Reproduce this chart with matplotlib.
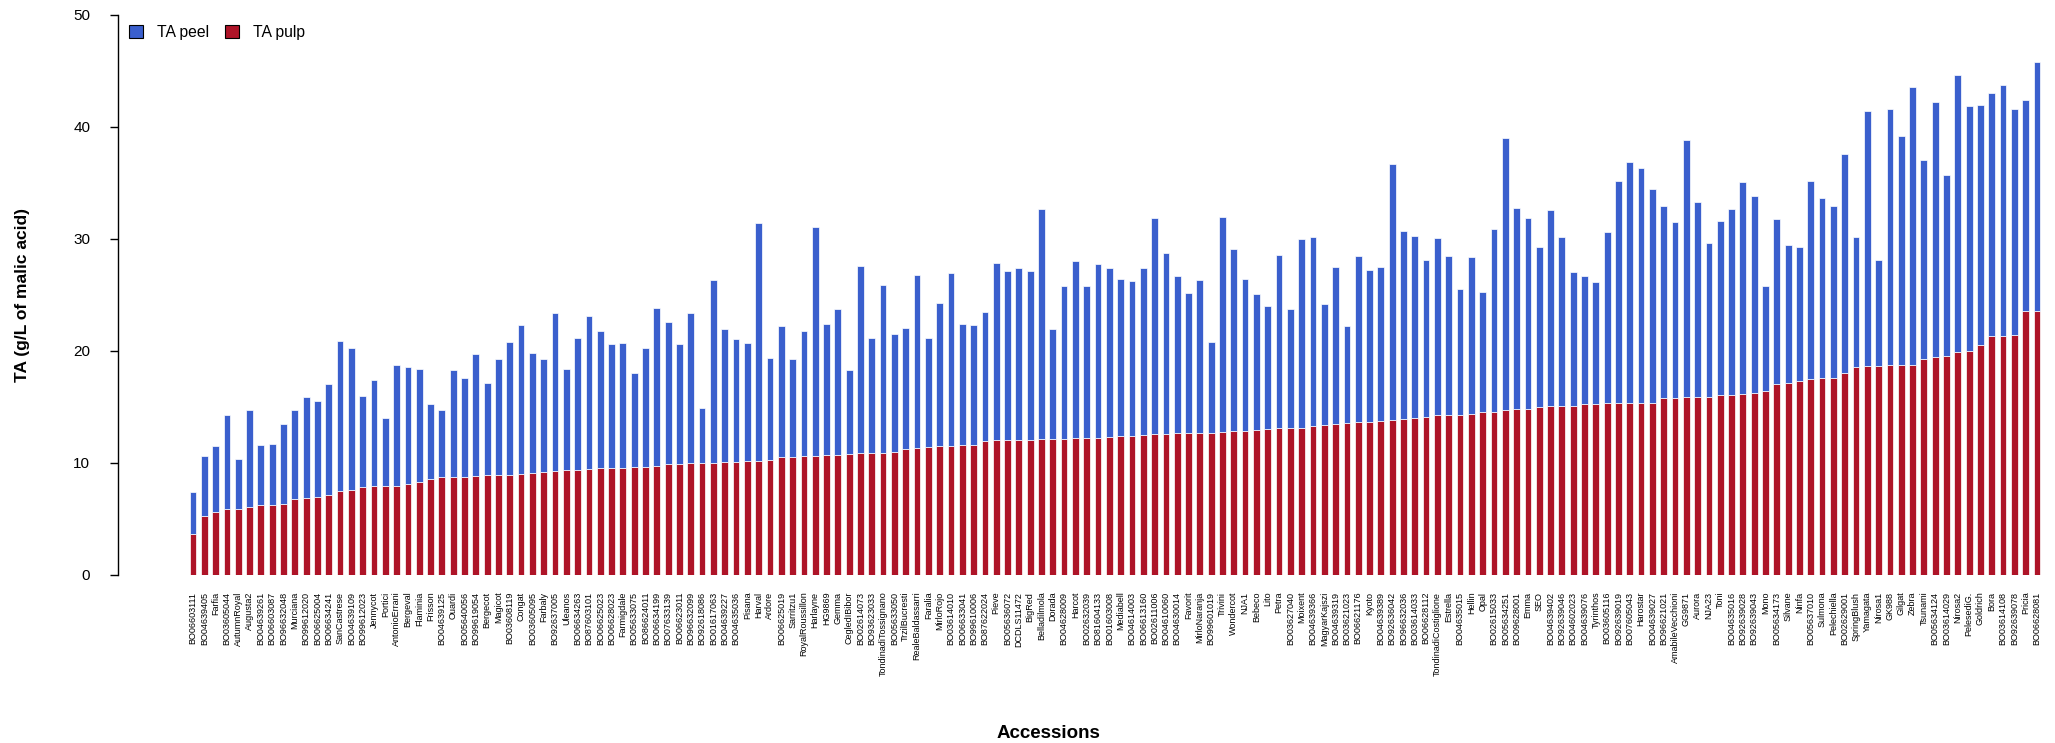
import matplotlib
matplotlib.use("Agg")
import matplotlib.pyplot as plt
import numpy as np

plt.rcParams['font.family'] = ['Liberation Sans', 'DejaVu Sans']

accessions = [
    "BO06603111", "BO04639405", "Farfia", "BO03605044", "AutumnRoyal", "Augusta2",
    "BO04639261", "BO06603087", "BO96632048", "Murciana", "BO99612020", "BO06625004",
    "BO06634241", "SanCastrese", "BO04639109", "BO99612023", "Jennycot", "Portici",
    "AntonioErrani", "Bergeval", "Flaminia", "Frisson", "BO04639125", "Ouardi",
    "BO05640056", "BO99619054", "Bergecot", "Magicot", "BO03608119", "Congat",
    "BO03605095", "Farbaly", "BO92637005", "Uleanos", "BO06634263", "BO87603101",
    "BO06625023", "BO06628023", "Farmigdale", "BO05633075", "BO86624011", "BO06634199",
    "BO07633139", "BO06623011", "BO96632099", "BO92618086", "BO01617063", "BO04639227",
    "BO04635036", "Pisana", "Harval", "Ardore", "BO06625019", "Sarritzu1",
    "RoyalRoussillon", "Harlayne", "HG9869", "Gemma", "CegledIBibor", "BO02614073",
    "BO93623033", "TondinadiTossignano", "BO05633050", "TrzilBucresti", "RealeBaldassarri", "Faralia",
    "MirloRojo", "BO03614010", "BO06633041", "BO99610006", "BO87622024", "Pieve",
    "BO05636072", "DCDLS11472", "BigRed", "Belladilmola", "Dorada", "BO04628009",
    "Harcot", "BO02632039", "BO81604133", "BO01603008", "Mediabell", "BO04614003",
    "BO06613160", "BO02611006", "BO04610060", "BO04630014", "Favorit", "MirloNaranja",
    "BO99601019", "Trivini", "Wondercot", "NJA1", "Bebeco", "Lito",
    "Petra", "BO03627040", "Moixent", "BO04639366", "MagyarKajszi", "BO04639319",
    "BO03621023", "BO06621176", "Kyoto", "BO04639389", "BO92636042", "BO96632036",
    "BO03614033", "BO06628112", "TondinadiCostiglione", "Estrella", "BO04635015", "Hellin",
    "Opal", "BO02615033", "BO05634251", "BO09628001", "Emma", "SEO",
    "BO04639402", "BO92639046", "BO04602023", "BO04639076", "Tyrinthos", "BO03605116",
    "BO92639019", "BO07605043", "Harostar", "BO04639027", "BO96621021", "AmabileVecchioni",
    "GG9871", "Aurora", "NJA23", "Toni", "BO04635016", "BO92639028",
    "BO92639043", "Mono", "BO05634173", "Silvane", "Ninfa", "BO05637010",
    "Sulmona", "Pelechiella", "BO02629001", "SpringBlush", "Yamagata", "Nirosa1",
    "GK988", "Gilgat", "Zebra", "Tsunami", "BO05634124", "BO03614029",
    "Nirosa2", "PelesediG.", "Goldrich", "Bora", "BO03614108", "BO92639078",
    "Pricia", "BO06628081",
]

ta_pulp = [
    3.69, 5.23, 5.63, 5.90, 5.93, 6.10, 6.20, 6.27, 6.33, 6.80, 6.90, 6.97,
    7.10, 7.47, 7.57, 7.88, 7.91, 7.98, 7.98, 8.14, 8.28, 8.58, 8.71, 8.71,
    8.78, 8.81, 8.88, 8.88, 8.95, 8.98, 9.08, 9.18, 9.32, 9.38, 9.38, 9.45,
    9.52, 9.52, 9.55, 9.62, 9.65, 9.68, 9.89, 9.92, 9.95, 9.95, 10.02, 10.09,
    10.12, 10.15, 10.19, 10.25, 10.52, 10.56, 10.59, 10.66, 10.72, 10.72, 10.82, 10.89,
    10.89, 10.92, 10.96, 11.23, 11.29, 11.39, 11.49, 11.49, 11.56, 11.59, 11.96, 12.00,
    12.00, 12.06, 12.06, 12.13, 12.13, 12.16, 12.20, 12.20, 12.23, 12.30, 12.37, 12.40,
    12.50, 12.60, 12.60, 12.63, 12.67, 12.67, 12.70, 12.73, 12.83, 12.87, 12.97, 13.00,
    13.07, 13.10, 13.14, 13.27, 13.37, 13.44, 13.57, 13.64, 13.67, 13.71, 13.81, 13.94,
    14.01, 14.08, 14.28, 14.31, 14.31, 14.34, 14.51, 14.51, 14.71, 14.78, 14.81, 14.95,
    15.05, 15.11, 15.11, 15.21, 15.28, 15.31, 15.35, 15.35, 15.35, 15.35, 15.75, 15.82,
    15.85, 15.92, 15.92, 16.02, 16.09, 16.12, 16.22, 16.39, 17.06, 17.16, 17.29, 17.49,
    17.56, 17.59, 18.00, 18.57, 18.63, 18.67, 18.70, 18.77, 18.77, 19.24, 19.44, 19.50,
    19.91, 19.94, 20.48, 21.28, 21.35, 21.41, 23.53, 23.59,
]

ta_peel = [
    3.75, 5.43, 5.90, 8.41, 4.46, 8.61, 5.43, 5.43, 7.17, 7.91, 9.02, 8.58,
    9.92, 13.37, 12.70, 8.10, 9.52, 6.06, 10.75, 10.39, 10.08, 6.70, 6.04, 9.55,
    8.75, 10.89, 8.28, 10.36, 11.86, 13.31, 10.69, 10.09, 14.07, 8.98, 11.80, 13.64,
    12.26, 11.12, 11.16, 8.41, 10.59, 14.15, 12.66, 10.69, 13.44, 4.96, 16.32, 11.83,
    10.89, 10.56, 21.21, 9.12, 11.73, 8.74, 11.16, 20.37, 11.63, 12.97, 7.44, 16.66,
    10.26, 14.98, 10.52, 10.79, 15.45, 9.79, 12.74, 15.45, 10.79, 10.70, 11.46, 15.82,
    15.11, 15.29, 15.02, 20.54, 9.82, 13.64, 15.85, 13.54, 15.48, 15.05, 14.04, 13.81,
    14.88, 19.27, 16.09, 14.01, 12.50, 13.64, 8.08, 19.21, 16.22, 13.57, 12.10, 10.99,
    15.48, 10.59, 16.79, 16.92, 10.83, 14.01, 8.65, 14.78, 13.51, 13.74, 22.82, 16.72,
    16.22, 14.00, 15.75, 14.18, 11.16, 14.04, 10.72, 16.35, 24.23, 17.99, 17.03, 14.34,
    17.52, 15.05, 11.93, 11.50, 10.89, 15.29, 19.84, 21.45, 20.94, 19.10, 17.13, 15.71,
    22.99, 17.32, 13.67, 15.58, 16.55, 18.97, 17.56, 9.35, 14.74, 12.30, 11.93, 17.63,
    16.05, 15.29, 19.53, 11.56, 22.76, 9.41, 22.89, 20.41, 24.76, 17.79, 22.72, 16.16,
    24.73, 21.92, 21.44, 21.75, 22.32, 20.14, 18.83, 22.15,
]

y_ticks = [0, 10, 20, 30, 40, 50]

W, H = 2055, 743
fig = plt.figure(figsize=(W / 100, H / 100), dpi=100)
ax_left, ax_right = 118, 2045
ax_top, ax_bottom = 14.5, 575
ax = fig.add_axes([ax_left / W, 1 - ax_bottom / H, (ax_right - ax_left) / W, (ax_bottom - ax_top) / H])

x = np.arange(len(accessions))
blue = "#3A5FCD"
red = "#AE1428"
ax.bar(x, ta_pulp, width=0.6, color=red, edgecolor="white", linewidth=0.5, label="TA pulp")
ax.bar(x, ta_peel, bottom=ta_pulp, width=0.6, color=blue, edgecolor="white", linewidth=0.5, label="TA peel")

px = 11.313
ax.set_xlim(0 - (193 - ax_left) / px, (len(accessions) - 1) + (ax_right - 2037) / px)
ax.set_ylim(0, 50)

ax.set_xticks(x)
ax.set_xticklabels(accessions, rotation=90, fontsize=6.5, va="top", ha="center")
ax.tick_params(axis="x", length=0, pad=12)
ax.set_yticks(y_ticks)
ax.set_yticklabels([str(t) for t in y_ticks], fontsize=11)
ax.tick_params(axis="y", length=6, width=1, pad=14)

for s in ["top", "right", "bottom"]:
    ax.spines[s].set_visible(False)
ax.spines["left"].set_bounds(0, 50)
ax.spines["left"].set_linewidth(1)

fig.text(23 / W, 1 - 295 / H, "TA (g/L of malic acid)", rotation=90, fontsize=12.5,
         fontweight="bold", ha="center", va="center")
fig.text(1048 / W, 1 - 733 / H, "Accessions", fontsize=13.5, fontweight="bold",
         ha="center", va="center")

handles, labels = ax.get_legend_handles_labels()
order = [1, 0]
leg = ax.legend([handles[i] for i in order], [labels[i] for i in order],
                loc="upper left", bbox_to_anchor=(129 / W, 1 - 25 / H),
                bbox_transform=fig.transFigure, ncol=2, frameon=False,
                fontsize=11.3, handlelength=0.9, handleheight=0.9,
                handletextpad=0.9, columnspacing=1.0, borderpad=0, borderaxespad=0)
for p in leg.get_patches():
    p.set_edgecolor("black")
    p.set_linewidth(0.8)

fig.savefig("out.png", dpi=100)
